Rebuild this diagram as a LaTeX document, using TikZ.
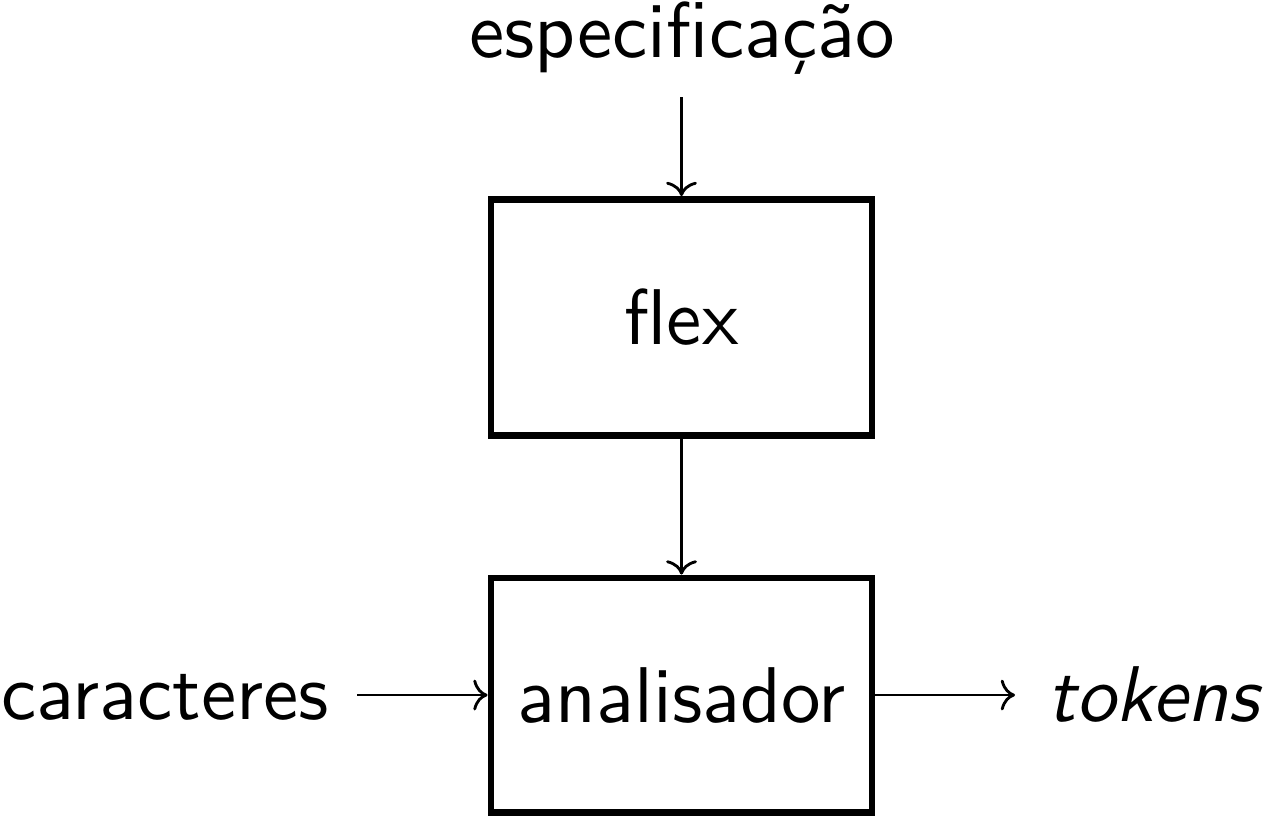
\documentclass[tikz,border=0pt]{standalone}
\usetikzlibrary{arrows.meta}
\begin{document}
\begin{tikzpicture}[x=0.1265pt,y=-0.1265pt,
  font=\fontsize{10}{12}\selectfont\sffamily,
  box/.style={draw,line width=0.88pt,minimum width=381*0.1265pt,minimum height=236*0.1265pt,inner sep=0pt},
  lbl/.style={inner sep=0pt,anchor=base},
  arr/.style={line width=0.36pt,-{To[width=3.9pt,length=1.8pt]}}]
\useasboundingbox (0,0) rectangle (1267,825);
\node[box] (flex) at (681.5,317.5) {flex};
\node[box,minimum height=234*0.1265pt] (ana) at (681.5,695) {analisador};
\node[lbl] (spec) at (682,57) {especificação};
\node[lbl,anchor=base west] (car) at (0,719) {caracteres};
\node[lbl,anchor=base west] (tok) at (1046,721) {\textit{tokens}};
\coordinate (s1) at (681.5,97);
\coordinate (c1) at (357,695);
\coordinate (t1) at (1015,695);
\draw[arr] (s1) -- (flex.north);
\draw[arr] (flex.south) -- (ana.north);
\draw[arr] (c1) -- (ana.west);
\draw[arr] (ana.east) -- (t1);
\end{tikzpicture}
\end{document}
